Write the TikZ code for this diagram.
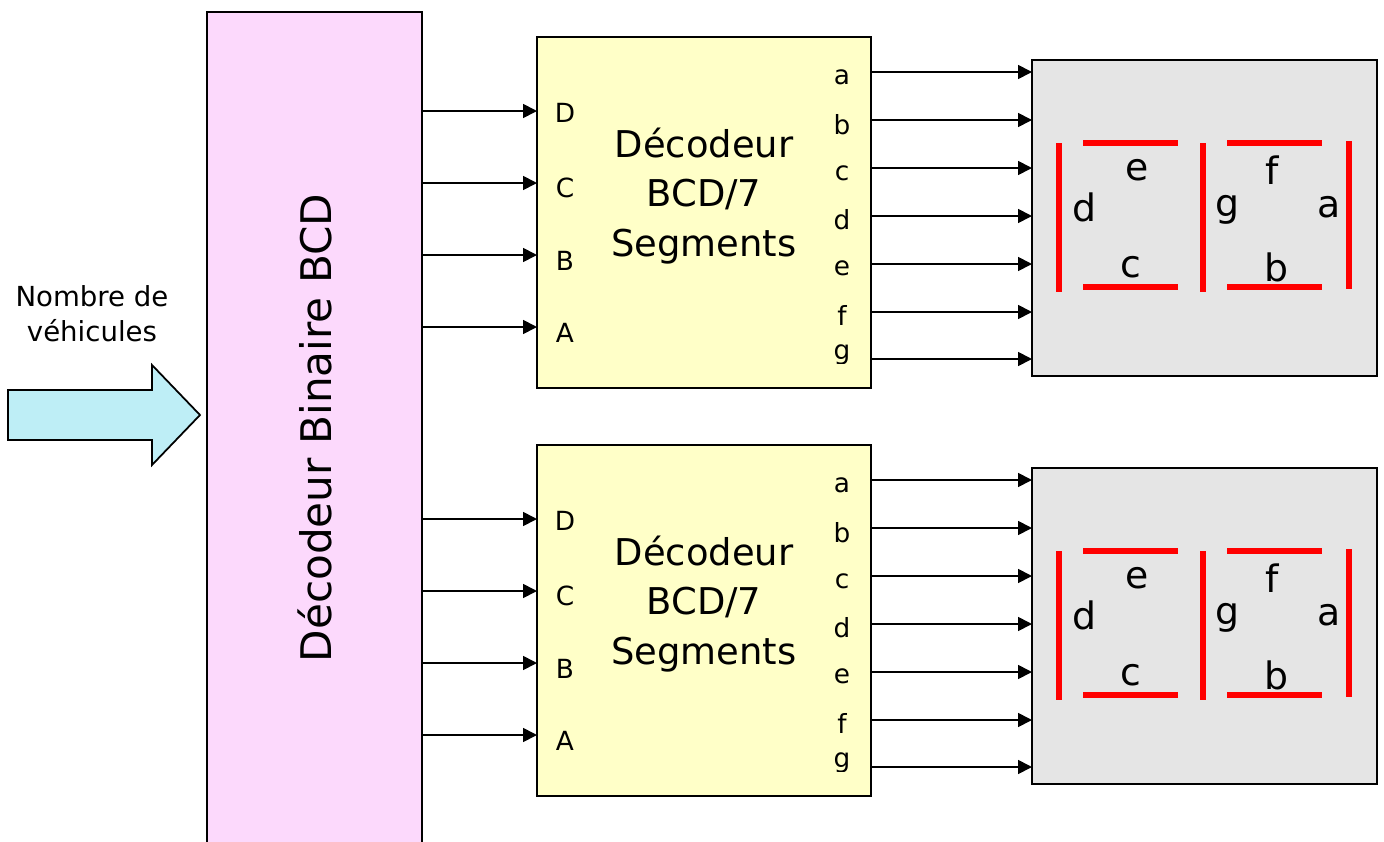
\documentclass[tikz,border=0pt]{standalone}
\usepackage{fontspec}
\setmainfont{DejaVu Sans}
\usetikzlibrary{arrows.meta}
\definecolor{pinkfill}{HTML}{FCD9FC}
\definecolor{yelfill}{HTML}{FFFFC8}
\definecolor{grayfill}{HTML}{E5E5E5}
\definecolor{cyanfill}{HTML}{BEEEF6}
\definecolor{segred}{HTML}{FF0000}
\tikzset{
  box/.style={draw=black, line width=1.3pt, inner sep=0pt, outer sep=0pt},
  conn/.style={line width=1pt, -{Triangle[length=0.28cm,width=0.28cm]}},
  seg/.style={segred, line width=3.4pt},
  inlbl/.style={font=\fontsize{15}{18}\selectfont, inner sep=0pt},
  outlbl/.style={font=\fontsize{15}{18}\selectfont, inner sep=0pt},
  seglbl/.style={font=\fontsize{21.5}{24}\selectfont, inner sep=0pt},
  blocktxt/.style={font=\fontsize{21}{28.35}\selectfont, align=center, inner sep=0pt},
}
\begin{document}
\begin{tikzpicture}[x=0.02cm, y=-0.02cm]
\clip (0,0) rectangle (1384,842);
\fill[white] (0,0) rectangle (1384,842);

% big binary decoder
\node[box, fill=pinkfill, minimum width=215*0.02cm, minimum height=848*0.02cm] (bin) at (314.5,436) {};
\node[rotate=90, font=\fontsize{24}{28}\selectfont, inner sep=0pt] (bintxt) at (315,428) {Décodeur Binaire BCD};

% input arrow
\draw[line width=1pt, fill=cyanfill] (8,390) -- (152,390) -- (152,365) -- (200,415) -- (152,465) -- (152,440) -- (8,440) -- cycle;
\node[font=\fontsize{15.7}{19.8}\selectfont, align=center, inner sep=0pt] (nbtxt) at (92,314) {Nombre de\\véhicules};

\foreach \k/\dy in {1/0, 2/408} {
  % BCD/7 segment decoder
  \node[box, fill=yelfill, minimum width=334*0.02cm, minimum height=351*0.02cm] (dec\k) at (704,212.5+\dy) {};
  \node[blocktxt] (dectxt\k) at (704,196+\dy) {Décodeur\\BCD/7\\Segments};
  % display
  \node[box, fill=grayfill, minimum width=345*0.02cm, minimum height=316*0.02cm] (disp\k) at (1204.5,218+\dy) {};
  % inputs
  \foreach \y/\l/\ly in {111/D/113, 183/C/188, 255/B/261, 327/A/333} {
    \coordinate (in\k\l) at (dec\k.west |- 0,\y+\dy);
    \draw[conn] (bin.east |- in\k\l) -- (in\k\l);
    \node[inlbl] (lbl\k\l) at (565,\ly+\dy) {\l};
  }
  % outputs
  \foreach \y/\l/\ly in {72/a/77, 120/b/125, 168/c/173, 216/d/220, 264/e/268, 312/f/315} {
    \coordinate (out\k\l) at (disp\k.west |- 0,\y+\dy);
    \draw[conn] (dec\k.east |- out\k\l) -- (out\k\l);
    \node[outlbl] (olbl\k\l) at (842,\ly+\dy) {\l};
  }
  \coordinate (out\k g) at (disp\k.west |- 0,359+\dy);
  \draw[conn] (dec\k.east |- out\k g) -- (out\k g);
  \begin{scope}
    \clip (820,340+\dy) rectangle (870,363+\dy);
    \node[outlbl] (olbl\k g) at (842,355+\dy) {g};
  \end{scope}
  % segments
  \draw[seg] (1059,143+\dy) -- (1059,292+\dy);
  \draw[seg] (1083,143+\dy) -- (1178,143+\dy);
  \draw[seg] (1083,287+\dy) -- (1178,287+\dy);
  \draw[seg] (1203,143+\dy) -- (1203,292+\dy);
  \draw[seg] (1227,143+\dy) -- (1322,143+\dy);
  \draw[seg] (1227,287+\dy) -- (1322,287+\dy);
  \draw[seg] (1349,141+\dy) -- (1349,289+\dy);
  \node[seglbl] (se\k) at (1137,170+\dy) {e};
  \node[seglbl] (sd\k) at (1084,207+\dy) {d};
  \node[seglbl] (sc\k) at (1131,267+\dy) {c};
  \node[seglbl] (sf\k) at (1272,170+\dy) {f};
  \node[seglbl] (sg\k) at (1227,210+\dy) {g};
  \node[seglbl] (sa\k) at (1329,207+\dy) {a};
  \node[seglbl] (sb\k) at (1276,267+\dy) {b};
}
\end{tikzpicture}
\end{document}
